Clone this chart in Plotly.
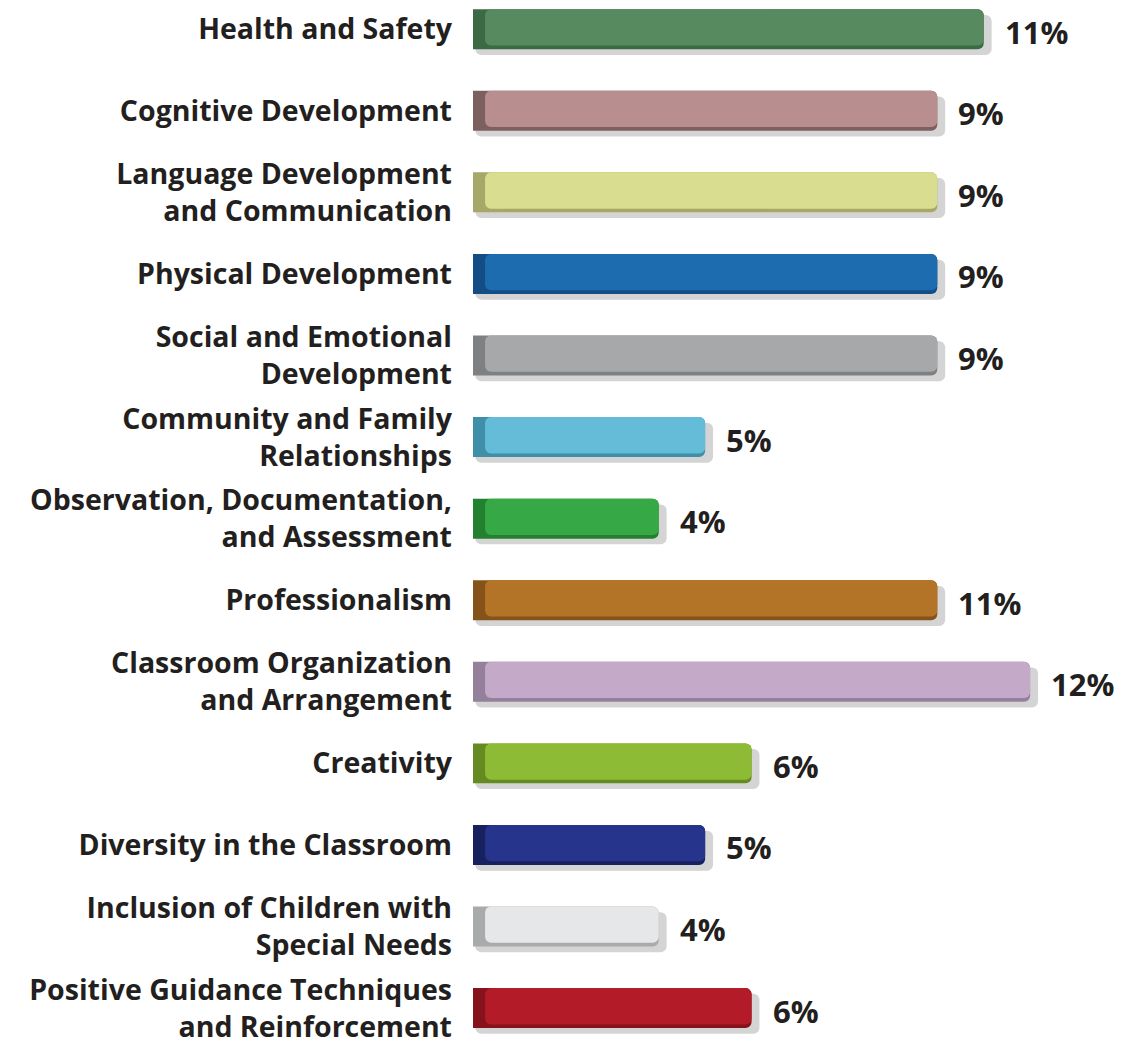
import plotly.graph_objects as go

categories = [
    "Health and Safety",
    "Cognitive Development",
    "Language Development<br>and Communication",
    "Physical Development",
    "Social and Emotional<br>Development",
    "Community and Family<br>Relationships",
    "Observation, Documentation,<br>and Assessment",
    "Professionalism",
    "Classroom Organization<br>and Arrangement",
    "Creativity",
    "Diversity in the Classroom",
    "Inclusion of Children with<br>Special Needs",
    "Positive Guidance Techniques<br>and Reinforcement",
]
bar_values = [11, 10, 10, 10, 10, 5, 4, 10, 12, 6, 5, 4, 6]
pct_labels = ["11%", "9%", "9%", "9%", "9%", "5%", "4%", "11%", "12%", "6%", "5%", "4%", "6%"]
colors = ["#588a5f", "#b88f8e", "#d9dd8f", "#1d6cb0", "#a7a8aa", "#64bcd9", "#36a946",
          "#b47428", "#c4a9c9", "#8ebb35", "#27348b", "#e6e7e8", "#b31b29"]
dark_colors = ["#3b6a44", "#7e5f60", "#a5a866", "#124d85", "#7f8083", "#3f8fa8", "#22802f",
               "#85531a", "#94809a", "#668a22", "#18215f", "#a9aaac", "#86121c"]

FONT = "Open Sans"
idx = list(range(len(categories)))
W = 0.49

fig = go.Figure()
# shadow
fig.add_trace(go.Bar(
    y=idx, x=[v + 0.12 for v in bar_values], base=0.05, orientation="h",
    width=W, offset=-W / 2 + 0.07,
    marker=dict(color="rgba(60,60,60,0.22)", line=dict(width=0), cornerradius=6),
    hoverinfo="skip", showlegend=False))
# dark edge
fig.add_trace(go.Bar(
    y=idx, x=bar_values, orientation="h", width=W, offset=-W / 2,
    marker=dict(color=dark_colors, line=dict(width=0), cornerradius=6),
    hoverinfo="skip", showlegend=False))
# main face
fig.add_trace(go.Bar(
    y=idx, x=[v - 0.26 for v in bar_values], base=0.26, orientation="h",
    width=W - 0.045, offset=-W / 2,
    marker=dict(color=colors, line=dict(width=0), cornerradius=6),
    showlegend=False))

for i, (v, t) in enumerate(zip(bar_values, pct_labels)):
    fig.add_annotation(x=v, y=i + 0.03, text="<b>%s</b>" % t, showarrow=False,
                       xanchor="left", xshift=19, yanchor="middle",
                       font=dict(family=FONT, size=31, color="#231f20", weight=800))

fig.update_layout(
    width=1115, height=1036,
    margin=dict(l=465, r=0, t=0, b=0, autoexpand=False),
    paper_bgcolor="white", plot_bgcolor="white",
    barmode="overlay",
    xaxis=dict(range=[0, 14], visible=False, automargin=False),
    yaxis=dict(range=[12.44, -0.26], tickmode="array", tickvals=idx,
               ticktext=["<b>%s</b>" % c for c in categories],
               showgrid=False, zeroline=False, showline=False, ticks="",
               automargin=False, ticklabelstandoff=20, ticklabeloverflow="allow",
               tickfont=dict(family=FONT, size=28.5, color="#231f20", weight=800)),
)

fig.write_html("out.html")
